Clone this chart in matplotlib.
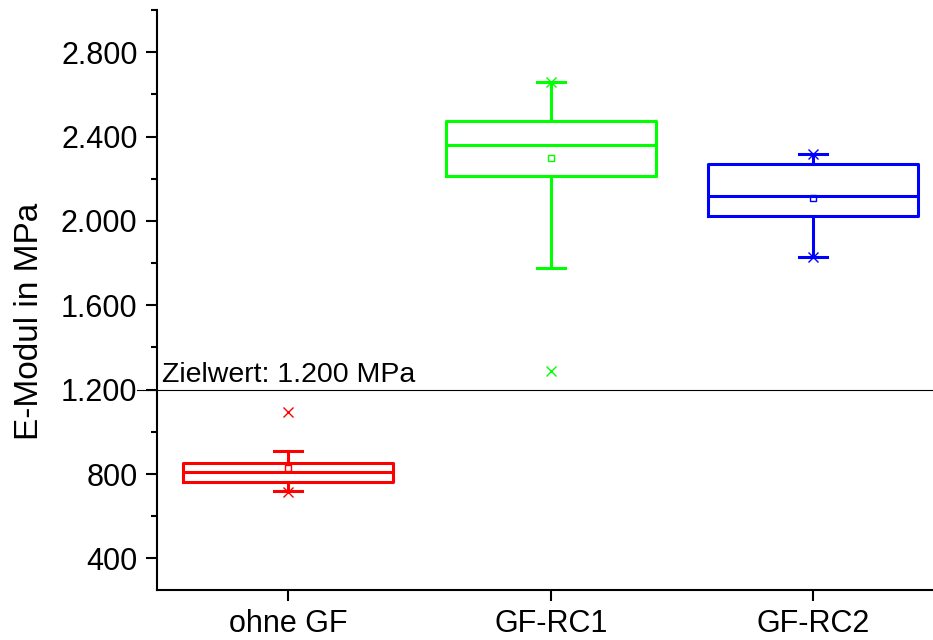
import matplotlib.pyplot as plt
import matplotlib.transforms as mtransforms
from matplotlib.ticker import FuncFormatter, MultipleLocator

plt.rcParams['font.family'] = ['Liberation Sans', 'DejaVu Sans']

# box plot statistics (MPa)
groups = ["ohne GF", "GF-RC1", "GF-RC2"]
colors = ["#ff0000", "#00ff00", "#0000ff"]
q1 = [760, 2215, 2021]
median = [811, 2358, 2116]
q3 = [853, 2472, 2270]
whisker_low = [719, 1776, 1828]
whisker_high = [909, 2659, 2316]
mean = [828, 2300, 2108]
minimum = [716, 1290, 1828]
maximum = [1096, 2659, 2316]
target = 1200

fig = plt.figure(figsize=(9.33, 6.4), dpi=100)
ax = fig.add_axes([157 / 933, 50 / 640, (3 * 262.5) / 933, 580 / 640])

positions = [1, 2, 3]
for i, pos in enumerate(positions):
    stats = [dict(q1=q1[i], med=median[i], q3=q3[i],
                  whislo=whisker_low[i], whishi=whisker_high[i],
                  mean=mean[i], fliers=[])]
    c = colors[i]
    ax.bxp(stats, positions=[pos], widths=0.8, capwidths=0.107,
           showmeans=True, showfliers=False,
           boxprops=dict(color=c, linewidth=2.2),
           medianprops=dict(color=c, linewidth=2.2),
           whiskerprops=dict(color=c, linewidth=2.2),
           capprops=dict(color=c, linewidth=2.2),
           meanprops=dict(marker="s", markersize=5, markerfacecolor="none",
                          markeredgecolor=c, markeredgewidth=1))
    ax.plot([pos, pos], [minimum[i], maximum[i]], linestyle="none",
            marker="x", markersize=7, markeredgewidth=1, color=c)

# target line, slightly extended left over the tick
trans = mtransforms.blended_transform_factory(ax.transAxes, ax.transData)
ax.plot([-0.025, 1], [target, target], color="black", linewidth=0.8,
        transform=trans, clip_on=False)
ax.text(0.006, target + 8, "Zielwert: 1.200 MPa", transform=trans,
        fontsize=20.5, ha="left", va="bottom")

ax.set_xlim(0.5, 3.5)
ax.set_ylim(250, 3000)
ax.set_xticks(positions)
ax.set_xticklabels(groups)
ax.yaxis.set_major_locator(MultipleLocator(400))
ax.yaxis.set_minor_locator(MultipleLocator(200))
ax.yaxis.set_major_formatter(FuncFormatter(lambda v, p: f"{int(v):,}".replace(",", ".")))
ax.set_ylabel("E-Modul in MPa", fontsize=24)
ax.yaxis.set_label_coords(-0.142, 0.464)

for side in ["top", "right"]:
    ax.spines[side].set_visible(False)
for side in ["left", "bottom"]:
    ax.spines[side].set_linewidth(1.5)
ax.tick_params(which="major", direction="out", length=8, width=1.5,
               labelsize=22, pad=6)
ax.tick_params(which="minor", direction="out", length=4.5, width=1.5)

fig.savefig("out.png", dpi=100)
